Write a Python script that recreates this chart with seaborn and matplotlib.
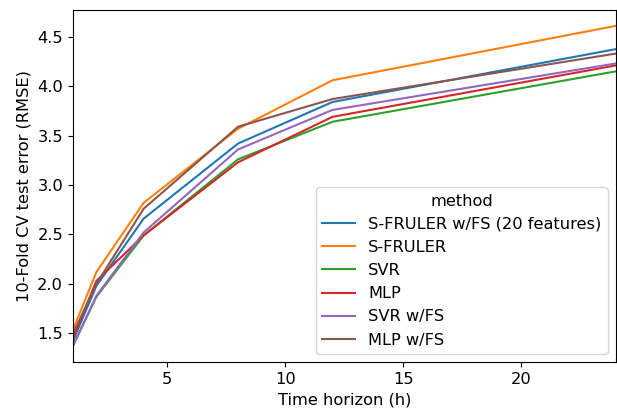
from matplotlib import pyplot as plt
import seaborn as sns
import pandas as pd

horizons = [1, 2, 4, 8, 12, 24]
methods = ['S-FRULER w/FS (20 features)', 'S-FRULER', 'SVR', 'MLP', 'SVR w/FS', 'MLP w/FS']

sfruler_fs = [1.42, 1.98, 2.66, 3.42, 3.84, 4.375]
sfruler = [1.53, 2.12, 2.82, 3.57, 4.06, 4.61]
svr = [1.37, 1.87, 2.49, 3.26, 3.64, 4.15]
mlp = [1.45, 2.03, 2.49, 3.23, 3.69, 4.21]
svr_fs = [1.37, 1.88, 2.52, 3.36, 3.76, 4.23]
mlp_fs = [1.49, 2.00, 2.76, 3.59, 3.87, 4.33]

if __name__ == '__main__':
    series = [sfruler_fs, sfruler, svr, mlp, svr_fs, mlp_fs]
    rows = []
    for name, vals in zip(methods, series):
        for h, v in zip(horizons, vals):
            rows.append({'Time horizon (h)': h, 'rmse': v, 'method': name})
    df = pd.DataFrame(rows)

    plt.rcParams['font.size'] = 11.7
    fig, ax = plt.subplots(figsize=(6.17, 4.12), dpi=100)
    sns.lineplot(x='Time horizon (h)', y='rmse', hue='method', data=df,
                 hue_order=methods, palette='tab10', ax=ax)
    ax.set_xlim(1, 24)
    ax.set_ylabel('10-Fold CV test error (RMSE)')
    ax.legend(title='method', loc='lower right')
    plt.subplots_adjust(left=0.118, right=0.998, top=0.976, bottom=0.121)
    plt.savefig('out.png')
